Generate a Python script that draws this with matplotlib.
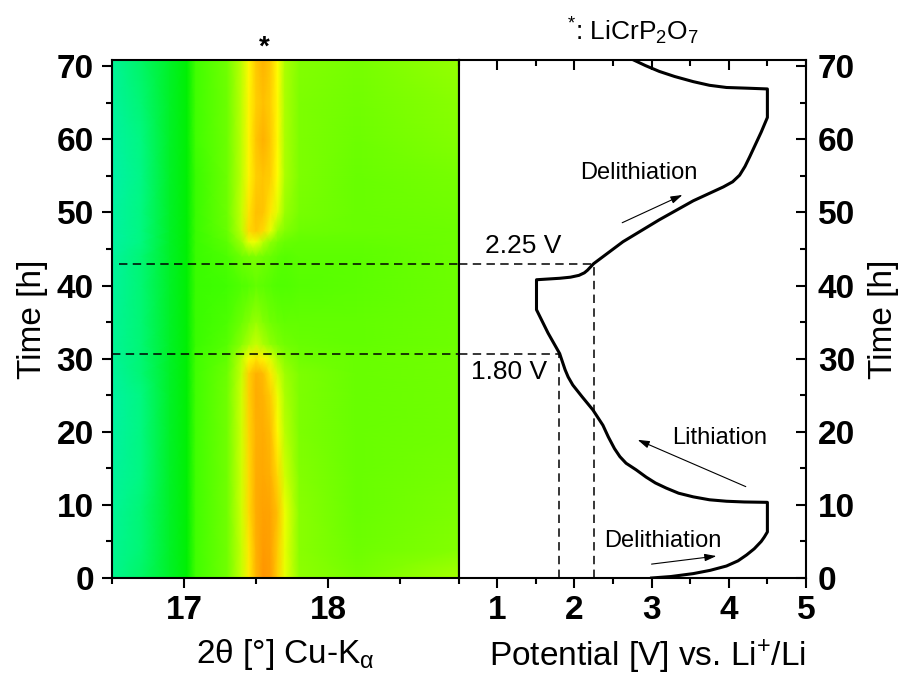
import matplotlib
matplotlib.use('Agg')
import matplotlib.pyplot as plt
from matplotlib.colors import LinearSegmentedColormap
import numpy as np

plt.rcParams['font.family'] = ['Liberation Sans', 'DejaVu Sans']
plt.rcParams['mathtext.fontset'] = 'custom'
plt.rcParams['mathtext.rm'] = 'Liberation Sans'
plt.rcParams['mathtext.it'] = 'Liberation Sans:italic'
plt.rcParams['mathtext.bf'] = 'Liberation Sans:bold'

# intensity map
two_theta = [16.5, 16.7, 16.9, 17.02, 17.08, 17.3, 17.4, 17.45, 17.5, 17.55, 17.6, 17.65, 17.7, 17.8, 18.2, 18.9]
map_time = [0, 4, 9, 14, 20, 25, 28, 30, 32, 35, 40, 44, 46, 47.5, 50, 55, 60, 65, 70.9]
map_levels = [
    [0.7, 1.2, 1.7, 2.0, 3.0, 3.9, 5.3, 6.4, 7.7, 8.6, 8.3, 7.0, 5.7, 4.4, 4.0, 4.8],
    [0.6, 1.1, 1.7, 2.0, 3.0, 3.9, 5.3, 6.5, 7.8, 8.4, 8.2, 7.1, 5.7, 4.3, 3.8, 4.2],
    [0.5, 1.1, 1.7, 2.0, 3.0, 3.9, 5.4, 6.8, 7.9, 8.2, 8.1, 7.4, 5.8, 4.3, 3.7, 4.1],
    [0.4, 1.0, 1.7, 2.0, 3.0, 3.9, 5.4, 6.8, 7.9, 8.0, 7.8, 6.8, 5.4, 4.2, 3.7, 4.0],
    [0.3, 1.0, 1.7, 2.0, 3.0, 3.9, 5.4, 6.9, 7.8, 7.9, 7.5, 6.1, 5.1, 4.1, 3.7, 3.9],
    [0.3, 1.0, 1.7, 2.0, 3.0, 3.9, 5.4, 7.0, 7.9, 7.7, 7.1, 5.8, 4.9, 4.1, 3.7, 3.9],
    [0.4, 1.1, 1.7, 2.0, 3.0, 3.8, 5.3, 7.0, 7.8, 7.5, 6.5, 5.4, 4.7, 4.1, 3.7, 3.9],
    [0.5, 1.1, 1.7, 2.0, 3.0, 3.6, 5.2, 6.1, 6.6, 6.2, 5.6, 4.9, 4.3, 3.9, 3.7, 3.9],
    [0.5, 1.1, 1.7, 2.0, 2.9, 3.4, 4.3, 4.9, 5.3, 4.9, 4.4, 4.1, 3.9, 3.7, 3.6, 3.8],
    [0.5, 1.1, 1.7, 2.0, 2.9, 3.2, 3.8, 4.2, 4.6, 4.2, 3.9, 3.7, 3.6, 3.6, 3.6, 3.8],
    [0.4, 1.1, 1.7, 2.0, 2.9, 3.0, 3.3, 3.4, 3.6, 3.5, 3.4, 3.3, 3.3, 3.4, 3.5, 3.8],
    [0.4, 1.1, 1.7, 2.0, 2.9, 3.2, 3.8, 4.0, 4.1, 3.9, 3.7, 3.5, 3.4, 3.5, 3.5, 3.8],
    [0.3, 1.0, 1.7, 2.0, 2.9, 3.5, 4.7, 5.7, 5.8, 5.1, 4.4, 4.0, 3.7, 3.6, 3.6, 3.8],
    [0.3, 1.0, 1.7, 2.0, 2.9, 3.7, 5.2, 6.8, 7.2, 6.8, 5.7, 4.7, 4.2, 3.8, 3.7, 3.8],
    [0.3, 1.0, 1.7, 2.0, 2.9, 3.8, 5.3, 6.6, 7.4, 7.3, 6.5, 5.6, 4.6, 4.0, 3.7, 3.9],
    [0.2, 0.9, 1.7, 2.0, 2.9, 3.8, 5.2, 6.2, 7.0, 7.3, 7.0, 6.0, 4.9, 4.1, 3.7, 4.0],
    [0.3, 1.0, 1.7, 2.0, 3.0, 3.8, 5.2, 6.2, 7.3, 7.8, 7.2, 6.1, 4.9, 4.1, 3.8, 4.2],
    [0.4, 1.1, 1.7, 2.0, 3.0, 3.8, 5.2, 6.2, 7.0, 7.4, 7.0, 6.1, 4.9, 4.1, 3.9, 4.3],
    [0.5, 1.2, 1.7, 2.0, 3.0, 3.9, 5.2, 6.1, 7.2, 7.7, 7.2, 6.0, 4.9, 4.2, 4.0, 4.5],
]
level_colors = ['#00f0b0', '#00f880', '#00f000', '#40ff00', '#78ff00', '#b0ff00',
                '#ffff00', '#ffd000', '#ffa800', '#ff8800']

# galvanostatic curve
potential = [3.0, 3.25, 3.54, 3.76, 3.97, 4.12, 4.23, 4.33, 4.42, 4.46, 4.5, 4.5,
             4.2, 3.97, 3.75, 3.54, 3.35, 3.19, 3.05, 2.93, 2.8, 2.67, 2.59, 2.52, 2.44, 2.37,
             2.24, 2.1, 1.98, 1.92, 1.88, 1.81, 1.66, 1.51, 1.51,
             1.81, 1.95, 2.06, 2.13, 2.17, 2.25, 2.63, 3.10, 3.54, 3.93, 4.05, 4.14, 4.21,
             4.27, 4.42, 4.5, 4.5, 4.25, 3.97, 3.75, 3.54, 3.3, 3.10, 2.92, 2.76]
curve_time = [0, 0.2, 0.6, 1.05, 1.64, 2.35, 3.15, 4.0, 5.0, 5.6, 6.3, 10.35,
              10.4, 10.5, 10.7, 11.1, 11.6, 12.3, 13.0, 13.8, 14.8, 15.7, 16.6, 17.7, 19.3, 20.9,
              23, 24.8, 26.4, 27.5, 28.5, 30.7, 33.5, 36.7, 40.8,
              41, 41.15, 41.4, 41.75, 42.1, 43, 46, 49, 51.6, 53.5, 54.2, 55.1, 56.3,
              57.6, 61, 63, 66.9, 67, 67.1, 67.4, 67.9, 68.6, 69.3, 70.1, 70.9]

marker_time = [43, 30.7]
marker_volt = [2.25, 1.80]
time_ticks = [0, 10, 20, 30, 40, 50, 60, 70]
theta_ticks = [17, 18]
volt_ticks = [1, 2, 3, 4, 5]

fig = plt.figure(figsize=(9, 6.8), dpi=100)
ax1 = fig.add_axes([112/900, 102/680, 346.5/900, 518/680])
ax2 = fig.add_axes([458.5/900, 102/680, 347.5/900, 518/680])

cmap = LinearSegmentedColormap.from_list('rainbow_map', level_colors)
ax1.pcolormesh(two_theta, map_time, np.array(map_levels), cmap=cmap, vmin=0, vmax=9,
               shading='gouraud', rasterized=True)
ax1.set_xlim(16.5, 18.905)
ax1.set_ylim(0, 70.86)
ax1.set_xticks(theta_ticks)
ax1.set_xticks([16.5, 17.5, 18.5], minor=True)
ax1.set_yticks(time_ticks)
ax1.set_yticks([5, 15, 25, 35, 45, 55, 65], minor=True)

ax2.plot(potential, curve_time, color='black', lw=2.2, solid_joinstyle='round', clip_on=True)
ax2.set_xlim(0.5, 5)
ax2.set_ylim(0, 70.86)
ax2.set_xticks(volt_ticks)
ax2.set_xticks([0.5, 1.5, 2.5, 3.5, 4.5], minor=True)
ax2.set_yticks(time_ticks)
ax2.set_yticks([5, 15, 25, 35, 45, 55, 65], minor=True)

ax1.tick_params(axis='y', which='both', direction='out', pad=5.5)
ax1.tick_params(axis='x', which='both', direction='out', pad=5)
ax2.tick_params(axis='x', which='both', direction='out', top=True, pad=5)
ax2.tick_params(axis='x', which='major', labeltop=False)
ax2.yaxis.tick_right()
ax2.tick_params(axis='y', which='both', direction='in', left=False, right=True, pad=8.5)

for ax in [ax1, ax2]:
    for spine in ax.spines.values():
        spine.set_linewidth(1.5)
    ax.tick_params(which='major', length=7.5, width=1.5, labelsize=24)
    ax.tick_params(which='minor', length=4, width=1.5)
    plt.setp(ax.get_xticklabels() + ax.get_yticklabels(), fontweight='bold')

# the top ticks of the right panel point inwards
for tick in ax2.xaxis.get_major_ticks() + ax2.xaxis.get_minor_ticks():
    tick.tick2line.set_marker(3)

ax1.set_ylabel('Time [h]', fontsize=24, labelpad=6)
ax1.set_xlabel(r'2θ [°] Cu-K$_{\mathregular{α}}$', fontsize=24, labelpad=8)
ax2.yaxis.set_label_position('right')
ax2.set_ylabel('Time [h]', fontsize=24, labelpad=9)
ax2.set_xlabel(r'Potential [V] vs. Li$^{\mathregular{+}}$/Li', fontsize=24, labelpad=8, x=0.543)

# guide lines at the two read-off potentials
dash = dict(color='black', lw=1.1, ls=(0, (5.5, 3.5)))
ax1.plot([16.55, 18.905], [marker_time[0]] * 2, **dash)
ax1.plot([16.5, 18.905], [marker_time[1]] * 2, **dash)
ax2.plot([0.5, marker_volt[0]], [marker_time[0]] * 2, **dash)
ax2.plot([0.5, marker_volt[1]], [marker_time[1]] * 2, **dash)
ax2.plot([marker_volt[0]] * 2, [0, marker_time[0]], **dash)
ax2.plot([marker_volt[1]] * 2, [0, marker_time[1]], **dash)

ax2.text(0.84, 45.4, '2.25 V', fontsize=19, va='center')
ax2.text(0.66, 28.2, '1.80 V', fontsize=19, va='center')
ax2.text(2.07, 55.4, 'Delithiation', fontsize=17, va='center')
ax2.text(3.26, 19.1, 'Lithiation', fontsize=17, va='center')
ax2.text(2.39, 5.0, 'Delithiation', fontsize=17, va='center')

arrow = dict(arrowstyle='-|>,head_length=0.7,head_width=0.22', color='black', lw=0.8,
             shrinkA=0, shrinkB=0)
ax2.annotate('', xy=(3.40, 52.4), xytext=(2.62, 48.6), arrowprops=arrow)
ax2.annotate('', xy=(2.82, 18.9), xytext=(4.22, 12.5), arrowprops=arrow)
ax2.annotate('', xy=(3.84, 3.0), xytext=(3.0, 1.9), arrowprops=arrow)

fig.text(264/900, 1 - 48/680, '*', fontsize=20, fontweight='bold', ha='center', va='center')
fig.text(567/900, 1 - 31/680, r'$^{\mathregular{*}}$: LiCrP$_{\mathregular{2}}$O$_{\mathregular{7}}$',
         fontsize=19, va='center')

fig.savefig('out.png', dpi=100)
